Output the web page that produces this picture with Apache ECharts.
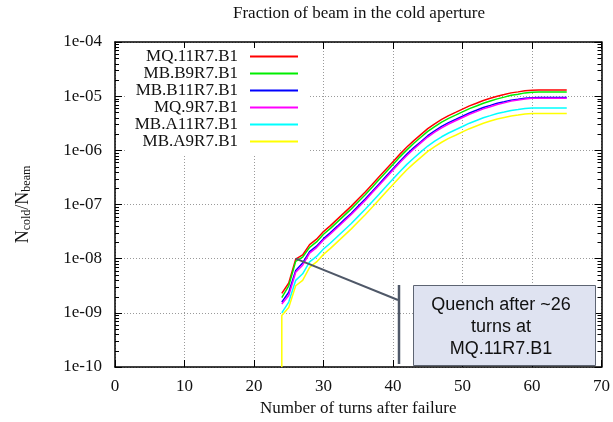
<!DOCTYPE html>
<html>
<head>
<meta charset="utf-8">
<script src="https://cdn.jsdelivr.net/npm/echarts@6/dist/echarts.min.js"></script>
<style>
  html, body { margin: 0; padding: 0; background: #fff; }
  #chart { width: 613px; height: 422px; }
</style>
</head>
<body>
<div id="chart"></div>
<script>
// Turn numbers after the failure (one sample per turn)
const turns = [24, 25, 26, 27, 28, 29, 30, 31, 32, 33, 34, 35, 36, 37, 38, 39, 40, 41, 42, 43, 44,
               45, 46, 47, 48, 49, 50, 51, 52, 53, 54, 55, 56, 57, 58, 59, 60, 61, 62, 63, 64, 65];

// Fraction of the beam lost in the cold aperture of each element
const mq11R7 = [2.29e-9, 3.55e-9, 9.8e-9, 1.17e-8, 1.82e-8, 2.29e-8, 3.16e-8, 4.07e-8, 5.37e-8, 7.08e-8, 9.33e-8,
                1.26e-7, 1.70e-7, 2.34e-7, 3.24e-7, 4.47e-7, 6.17e-7, 8.51e-7, 1.15e-6, 1.51e-6, 1.95e-6,
                2.51e-6, 3.09e-6, 3.72e-6, 4.37e-6, 5.01e-6, 5.75e-6, 6.61e-6, 7.41e-6, 8.32e-6, 9.12e-6,
                1.00e-5, 1.07e-5, 1.15e-5, 1.20e-5, 1.26e-5, 1.29e-5, 1.30e-5, 1.30e-5, 1.30e-5, 1.30e-5, 1.30e-5];
const mbB9R7 = [1.91e-9, 3.16e-9, 8.91e-9, 1.07e-8, 1.62e-8, 2.04e-8, 2.82e-8, 3.63e-8, 4.78e-8, 6.31e-8, 8.31e-8,
                1.12e-7, 1.51e-7, 2.08e-7, 2.89e-7, 3.98e-7, 5.50e-7, 7.58e-7, 1.02e-6, 1.35e-6, 1.74e-6,
                2.24e-6, 2.75e-6, 3.31e-6, 3.89e-6, 4.46e-6, 5.12e-6, 5.89e-6, 6.60e-6, 7.41e-6, 8.13e-6,
                8.91e-6, 9.60e-6, 1.04e-5, 1.09e-5, 1.15e-5, 1.18e-5, 1.19e-5, 1.19e-5, 1.19e-5, 1.19e-5, 1.19e-5];
const mbB11R7 = [1.58e-9, 2.40e-9, 6.03e-9, 8.32e-9, 1.35e-8, 1.70e-8, 2.34e-8, 3.02e-8, 3.98e-8, 5.25e-8, 6.91e-8,
                 9.34e-8, 1.26e-7, 1.73e-7, 2.40e-7, 3.31e-7, 4.57e-7, 6.31e-7, 8.52e-7, 1.12e-6, 1.44e-6,
                 1.86e-6, 2.29e-6, 2.76e-6, 3.24e-6, 3.71e-6, 4.26e-6, 4.90e-6, 5.49e-6, 6.17e-6, 6.76e-6,
                 7.41e-6, 7.90e-6, 8.45e-6, 8.75e-6, 9.15e-6, 9.34e-6, 9.4e-6, 9.4e-6, 9.4e-6, 9.4e-6, 9.4e-6];
const mq9R7 = [1.45e-9, 2.09e-9, 5.62e-9, 7.59e-9, 1.27e-8, 1.60e-8, 2.21e-8, 2.85e-8, 3.76e-8, 4.96e-8, 6.53e-8,
               8.82e-8, 1.19e-7, 1.64e-7, 2.27e-7, 3.13e-7, 4.32e-7, 5.96e-7, 8.05e-7, 1.06e-6, 1.37e-6,
               1.76e-6, 2.16e-6, 2.60e-6, 3.06e-6, 3.51e-6, 4.03e-6, 4.63e-6, 5.19e-6, 5.82e-6, 6.38e-6,
               7.00e-6, 7.52e-6, 8.10e-6, 8.48e-6, 8.90e-6, 9.12e-6, 9.2e-6, 9.2e-6, 9.2e-6, 9.2e-6, 9.2e-6];
const mbA11R7 = [1.0e-9, 1.58e-9, 3.98e-9, 5.25e-9, 8.72e-9, 1.10e-8, 1.51e-8, 1.95e-8, 2.57e-8, 3.39e-8, 4.47e-8,
                 6.04e-8, 8.14e-8, 1.12e-7, 1.55e-7, 2.14e-7, 2.96e-7, 4.08e-7, 5.51e-7, 7.23e-7, 9.34e-7,
                 1.20e-6, 1.48e-6, 1.78e-6, 2.09e-6, 2.40e-6, 2.75e-6, 3.17e-6, 3.55e-6, 3.99e-6, 4.37e-6,
                 4.79e-6, 5.10e-6, 5.45e-6, 5.65e-6, 5.90e-6, 6.02e-6, 6.05e-6, 6.05e-6, 6.05e-6, 6.05e-6, 6.05e-6];
// MB.A9R7.B1 starts from the bottom of the scale at turn 24
const turnsA9 = [24, 24, 25, 26, 27, 28, 29, 30, 31, 32, 33, 34, 35, 36, 37, 38, 39, 40, 41, 42, 43, 44,
                 45, 46, 47, 48, 49, 50, 51, 52, 53, 54, 55, 56, 57, 58, 59, 60, 61, 62, 63, 64, 65];
const mbA9R7 = [1.0e-10, 8.9e-10, 1.26e-9, 3.16e-9, 3.98e-9, 6.92e-9, 8.70e-9, 1.20e-8, 1.55e-8, 2.04e-8, 2.69e-8, 3.55e-8,
                4.79e-8, 6.46e-8, 8.89e-8, 1.23e-7, 1.70e-7, 2.34e-7, 3.23e-7, 4.37e-7, 5.74e-7, 7.41e-7,
                9.54e-7, 1.17e-6, 1.41e-6, 1.66e-6, 1.90e-6, 2.19e-6, 2.51e-6, 2.82e-6, 3.16e-6, 3.47e-6,
                3.80e-6, 4.05e-6, 4.32e-6, 4.49e-6, 4.69e-6, 4.78e-6, 4.8e-6, 4.8e-6, 4.8e-6, 4.8e-6, 4.8e-6];

const seriesNames = ['MQ.11R7.B1', 'MB.B9R7.B1', 'MB.B11R7.B1', 'MQ.9R7.B1', 'MB.A11R7.B1', 'MB.A9R7.B1'];
const seriesColors = ['#ff0000', '#00ee00', '#0000ff', '#ff00ff', '#00ffff', '#ffff00'];
const seriesTurns = [turns, turns, turns, turns, turns, turnsA9];
const seriesValues = [mq11R7, mbB9R7, mbB11R7, mq9R7, mbA11R7, mbA9R7];

// Quench threshold and the turn where it is first crossed
const quenchLevel = 1e-8;
const quenchTurn = 26;

// Axis ranges
const xMin = 0, xMax = 70, xStep = 10;
const yMin = 1e-10, yMax = 1e-4;

// Minor ticks of the log axis (2..9 in every decade)
const minorTicks = [];
for (let e = -10; e < -4; e++) {
  for (let k = 2; k <= 9; k++) minorTicks.push(k * Math.pow(10, e));
}

const serif = '"Liberation Serif", "Times New Roman", serif';
const sans = '"Liberation Sans", Arial, sans-serif';

function expLabel(v) {
  const e = Math.round(Math.log10(v));
  return '1e' + (e < 0 ? '-' : '+') + String(Math.abs(e)).padStart(2, '0');
}

const chart = echarts.init(document.getElementById('chart'), null, { renderer: 'canvas' });

const borderLine = { show: true, onZero: false, lineStyle: { color: '#000', width: 1.5 } };
const gridDots = { show: true, lineStyle: { color: '#9a9a9a', type: [1, 2], width: 1 } };

const lineSeries = seriesNames.map((name, i) => ({
  name: name,
  type: 'line',
  xAxisIndex: 0,
  yAxisIndex: 0,
  data: seriesTurns[i].map((t, j) => [t, seriesValues[i][j]]),
  showSymbol: false,
  symbol: 'none',
  color: seriesColors[i],
  lineStyle: { width: 1.5, color: seriesColors[i] },
  animation: false,
  z: 3
}));

lineSeries[0].markLine = {
  silent: true,
  symbol: ['none', 'none'],
  animation: false,
  data: [{ yAxis: quenchLevel }],
  lineStyle: { color: '#a8a8a8', width: 1.3, type: 'solid' },
  label: {
    show: true,
    position: 'insideStartTop',
    formatter: 'Estimated quench level',
    fontFamily: serif,
    fontSize: 17,
    color: '#222',
    distance: [6, 3]
  },
  z: 1
};

const minorTickSeries = {
  type: 'custom',
  xAxisIndex: 0,
  yAxisIndex: 0,
  silent: true,
  animation: false,
  data: minorTicks.map(v => [xMin, v]),
  renderItem: function (params, api) {
    const p = api.coord([xMin, api.value(1)]);
    const cs = params.coordSys;
    const y = Math.round(p[1]) + 0.5;
    return {
      type: 'group',
      children: [
        { type: 'line', shape: { x1: cs.x, y1: y, x2: cs.x + 4, y2: y }, style: { stroke: '#000', lineWidth: 1 } },
        { type: 'line', shape: { x1: cs.x + cs.width, y1: y, x2: cs.x + cs.width - 4, y2: y }, style: { stroke: '#000', lineWidth: 1 } }
      ]
    };
  },
  z: 4
};

chart.setOption({
  animation: false,
  backgroundColor: '#fff',
  title: {
    text: 'Fraction of beam in the cold aperture',
    left: 359,
    textAlign: 'center',
    top: 5,
    padding: 0,
    textStyle: { fontFamily: serif, fontSize: 17, fontWeight: 'normal', color: '#111' }
  },
  grid: { left: 115, right: 9, top: 42, bottom: 49 },
  legend: {
    data: seriesNames,
    orient: 'vertical',
    left: 125,
    top: 48,
    align: 'right',
    icon: 'rect',
    itemWidth: 48,
    itemHeight: 2,
    itemGap: 0,
    padding: [0, 12, 4, 0],
    backgroundColor: '#fff',
    selectedMode: false,
    formatter: n => '{t|' + n + '}',
    textStyle: {
      rich: {
        t: { width: 113, align: 'right', fontFamily: serif, fontSize: 17, lineHeight: 17, color: '#111', padding: [0, 7, 0, 0] }
      }
    }
  },
  xAxis: [
    {
      type: 'value', min: xMin, max: xMax, interval: xStep, position: 'bottom',
      axisLine: borderLine,
      axisTick: { show: true, inside: true, length: 7, lineStyle: { color: '#000', width: 1 } },
      axisLabel: { margin: 11, fontFamily: serif, fontSize: 17, color: '#111' },
      splitLine: gridDots,
      name: 'Number of turns after failure',
      nameLocation: 'middle',
      nameGap: 33,
      nameTextStyle: { fontFamily: serif, fontSize: 17, color: '#111' }
    },
    {
      type: 'value', min: xMin, max: xMax, interval: xStep, position: 'top',
      axisLine: borderLine,
      axisTick: { show: true, inside: true, length: 7, lineStyle: { color: '#000', width: 1 } },
      axisLabel: { show: false },
      splitLine: { show: false }
    }
  ],
  yAxis: [
    {
      type: 'log', logBase: 10, min: yMin, max: yMax, position: 'left',
      axisLine: borderLine,
      axisTick: { show: true, inside: true, length: 7, lineStyle: { color: '#000', width: 1 } },
      axisLabel: { margin: 13, fontFamily: serif, fontSize: 17, color: '#111', formatter: expLabel },
      splitLine: gridDots,
      minorTick: { show: false },
      name: '{n|N}{s|cold}{n|/N}{s|beam}',
      nameLocation: 'middle',
      nameRotate: 90,
      nameGap: 82,
      nameTextStyle: {
        rich: {
          n: { fontFamily: serif, fontSize: 18, lineHeight: 20, color: '#111' },
          s: { fontFamily: serif, fontSize: 12, lineHeight: 12, color: '#111', verticalAlign: 'bottom' }
        }
      }
    },
    {
      type: 'log', logBase: 10, min: yMin, max: yMax, position: 'right',
      axisLine: borderLine,
      axisTick: { show: true, inside: true, length: 7, lineStyle: { color: '#000', width: 1 } },
      axisLabel: { show: false },
      splitLine: { show: false }
    }
  ],
  series: lineSeries.concat([minorTickSeries])
});

// Call-out pointing at the first crossing of the quench level
const anchor = chart.convertToPixel({ xAxisIndex: 0, yAxisIndex: 0 }, [quenchTurn, quenchLevel]);
const calloutColor = '#4f5868';
chart.setOption({
  graphic: [
    { type: 'line', z: 10, shape: { x1: anchor[0], y1: anchor[1], x2: 398, y2: 300 }, style: { stroke: calloutColor, lineWidth: 2 } },
    { type: 'line', z: 10, shape: { x1: 399, y1: 285, x2: 399, y2: 364 }, style: { stroke: calloutColor, lineWidth: 2.5 } },
    { type: 'rect', z: 10, shape: { x: 413.5, y: 285.5, width: 182, height: 80 }, style: { fill: '#dfe3f1', stroke: '#5d6472', lineWidth: 1 } },
    {
      type: 'text', z: 11, x: 501, y: 327,
      style: {
        text: 'Quench after ~26\nturns at\nMQ.11R7.B1',
        font: '18px ' + sans,
        fill: '#111',
        align: 'center',
        verticalAlign: 'middle',
        lineHeight: 22
      }
    }
  ]
});
</script>
</body>
</html>
